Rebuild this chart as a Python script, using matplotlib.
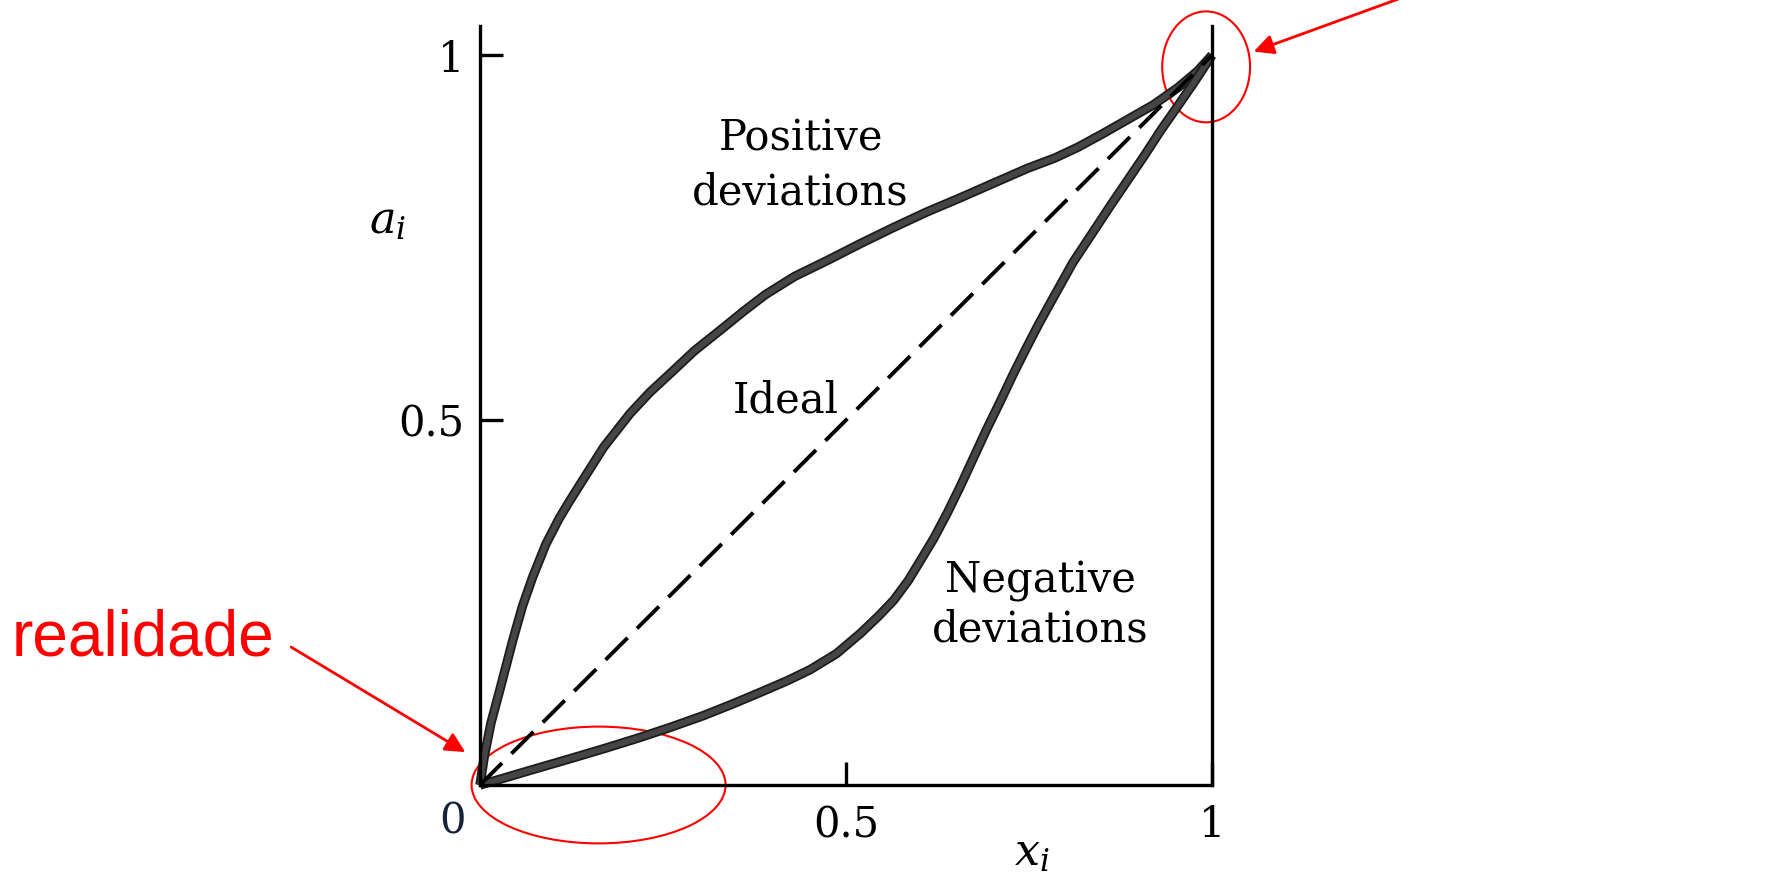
import matplotlib
matplotlib.use("Agg")
import matplotlib.pyplot as plt
import matplotlib.patheffects as pe
from matplotlib.patches import Ellipse, FancyArrowPatch

plt.rcParams['font.family'] = 'DejaVu Serif'
plt.rcParams['mathtext.fontset'] = 'dejavuserif'

# curves (x_i, a_i)
pos_x = [0.0, 0.006, 0.015, 0.027, 0.045, 0.058, 0.072, 0.09, 0.108, 0.123, 0.145, 0.169, 0.205, 0.232,
         0.26, 0.293, 0.328, 0.36, 0.39, 0.43, 0.475, 0.52, 0.565, 0.61, 0.657, 0.70, 0.748, 0.785,
         0.817, 0.85, 0.885, 0.92, 0.954, 0.98, 1.0]
pos_y = [0.0, 0.04, 0.085, 0.13, 0.199, 0.245, 0.285, 0.33, 0.365, 0.39, 0.425, 0.463, 0.509, 0.538,
         0.564, 0.595, 0.623, 0.649, 0.672, 0.697, 0.719, 0.742, 0.764, 0.785, 0.805, 0.824, 0.845, 0.859,
         0.874, 0.892, 0.912, 0.932, 0.956, 0.978, 1.0]

neg_x = [0.0, 0.031, 0.075, 0.123, 0.17, 0.215, 0.26, 0.305, 0.345, 0.383, 0.42, 0.451, 0.487, 0.52,
         0.545, 0.565, 0.585, 0.602, 0.62, 0.639, 0.657, 0.674, 0.692, 0.711, 0.728, 0.746, 0.763,
         0.78, 0.81, 0.839, 0.862, 0.885, 0.908, 0.93, 0.953, 0.975, 1.0]
neg_y = [0.0, 0.009, 0.022, 0.036, 0.05, 0.064, 0.079, 0.095, 0.111, 0.127, 0.143, 0.158, 0.18, 0.208,
         0.232, 0.253, 0.28, 0.308, 0.338, 0.374, 0.411, 0.448, 0.487, 0.526, 0.562, 0.598, 0.631,
         0.662, 0.716, 0.76, 0.795, 0.829, 0.863, 0.897, 0.93, 0.962, 1.0]

ideal_x = [0.0, 1.0]
ideal_y = [0.0, 1.0]

fig = plt.figure(figsize=(17.7, 8.72), dpi=100)
ax = fig.add_axes([480/1770, 87/872, 732/1770, 759/872])
ax.set_xlim(0, 1)
ax.set_ylim(0, 1.04)

# thick grey strokes with a darker rim, like the printed figure
rim = [pe.Stroke(linewidth=6.8, foreground='#1c1c1c'), pe.Normal()]
for xs, ys in [(pos_x, pos_y), (neg_x, neg_y)]:
    ax.plot(xs, ys, color='#454545', lw=4.2, solid_capstyle='butt', solid_joinstyle='round',
            clip_on=False, path_effects=rim)
ax.plot(ideal_x, ideal_y, color='black', lw=2.8, ls=(0, (8, 3.4)), clip_on=False)

ax.spines['top'].set_visible(False)
for s in ['left', 'right', 'bottom']:
    ax.spines[s].set_linewidth(2.4)

ax.set_xticks([0.5, 1])
ax.set_xticklabels(['0.5', '1'])
ax.set_yticks([0.5, 1])
ax.set_yticklabels(['0.5', '1'])
ax.tick_params(direction='in', length=16.5, width=2.4, labelsize=30, pad=14)
ax.tick_params(axis='y', pad=11)
ax.text(-0.038, -0.05, '0', fontsize=30, ha='center', va='center', color='#14223a')

ax.text(0.438, 0.870, 'Positive', fontsize=30, ha='center', va='baseline')
ax.text(0.438, 0.795, 'deviations', fontsize=30, ha='center', va='baseline')
ax.text(0.418, 0.51, 'Ideal', fontsize=30, ha='center', va='baseline')
ax.text(0.765, 0.264, 'Negative', fontsize=30, ha='center', va='baseline')
ax.text(0.765, 0.197, 'deviations', fontsize=30, ha='center', va='baseline')
ax.text(-0.126, 0.774, r'$a_i$', fontsize=32, ha='center', va='center')
ax.text(0.754, -0.092, r'$x_i$', fontsize=32, ha='center', va='center')

# red annotations
red = '#ff0000'
ax.add_patch(Ellipse((0.162, 0.0), 0.347, 0.16, fill=False, ec=red, lw=1.5, clip_on=False))
ax.add_patch(Ellipse((0.992, 0.984), 0.12, 0.152, fill=False, ec=red, lw=1.5, clip_on=False))
ax.text(-0.281, 0.177, 'realidade', fontsize=46, color=red, family='Liberation Sans',
        ha='right', va='baseline')
ax.add_patch(FancyArrowPatch((-0.258, 0.189), (-0.02, 0.045), arrowstyle='-|>,head_length=12,head_width=6',
                             color=red, lw=2, clip_on=False, shrinkA=0, shrinkB=0, mutation_scale=1))
ax.add_patch(FancyArrowPatch((1.40, 1.13), (1.057, 1.005), arrowstyle='-|>,head_length=12,head_width=6',
                             color=red, lw=2, clip_on=False, shrinkA=0, shrinkB=0, mutation_scale=1))

fig.savefig('out.png', dpi=100)
